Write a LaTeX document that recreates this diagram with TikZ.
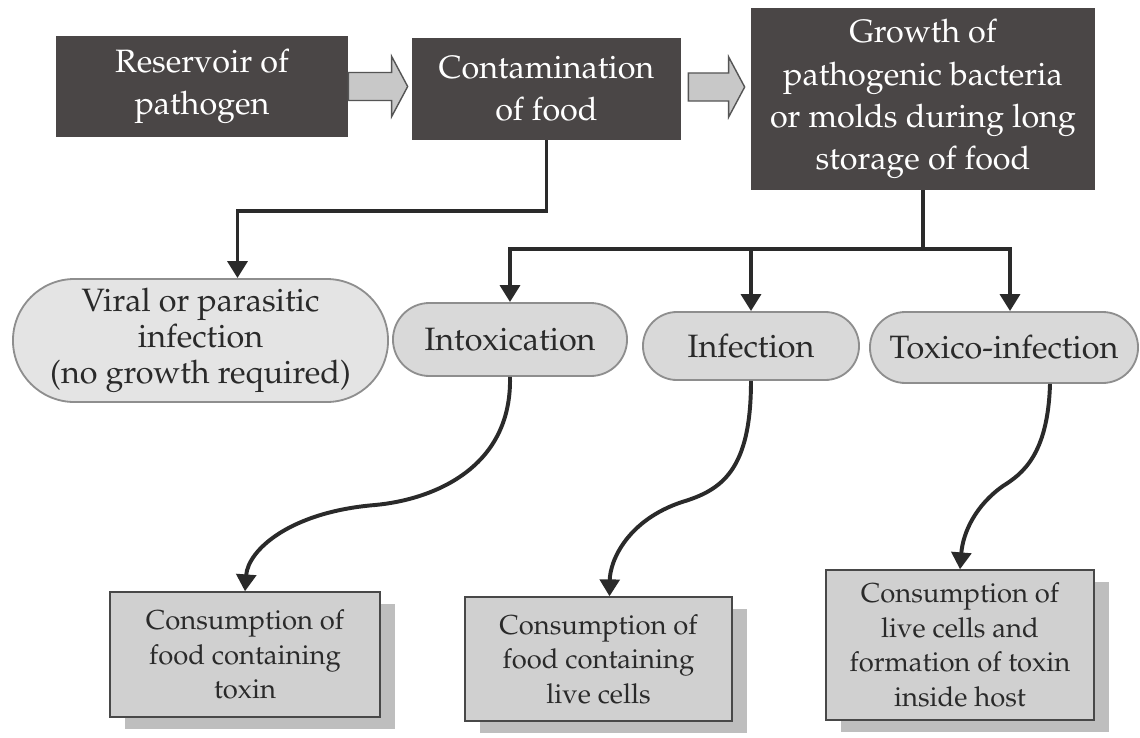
\documentclass[tikz,border=0pt]{standalone}
\usepackage[T1]{fontenc}
\usepackage{mathpazo}
\usepackage{tikz}
\usetikzlibrary{arrows.meta,calc,shapes.misc,shadows}
\definecolor{BoxDark}{HTML}{4A4646}
\definecolor{PillGray}{HTML}{D9D9D9}
\definecolor{PillLight}{HTML}{E4E4E4}
\definecolor{PillEdge}{HTML}{8E8E8E}
\definecolor{EndGray}{HTML}{D0D0D0}
\definecolor{EdgeDark}{HTML}{484848}
\definecolor{ShadowGray}{HTML}{BEBEBE}
\definecolor{ArrowGray}{HTML}{C8C8C8}
\definecolor{ArrowEdge}{HTML}{555555}
\definecolor{LineDark}{HTML}{2A2A2A}
\definecolor{TextDark}{HTML}{2A2A2A}

\newcommand{\fatarrow}[2]{%
  \filldraw[fill=ArrowGray,draw=ArrowEdge,line width=1pt,line join=miter] let \p1=#1, \p2=#2 in
    (\x1,\y1+0.35cm) -- (\x2-0.4cm,\y1+0.35cm) -- (\x2-0.4cm,\y1+0.75cm) -- (\x2,\y1)
    -- (\x2-0.4cm,\y1-0.75cm) -- (\x2-0.4cm,\y1-0.35cm) -- (\x1,\y1-0.35cm) -- cycle;}

\begin{document}
\begin{tikzpicture}[x=0.025cm, y=-0.025cm,
  darkbox/.style={fill=BoxDark, text=white, align=center, inner sep=0pt, font=\fontsize{23}{30}\selectfont},
  pill/.style={rounded rectangle, draw=PillEdge, line width=1.3pt, fill=PillGray, text=TextDark, align=center, inner sep=0pt, font=\fontsize{23}{25.5}\selectfont},
  endbox/.style={draw=EdgeDark, line width=1pt, fill=EndGray, text=TextDark, align=center, inner sep=0pt, font=\fontsize{19.5}{24.5}\selectfont,
    drop shadow={shadow xshift=0.375cm, shadow yshift=-0.3cm, fill=ShadowGray, opacity=1}},
  conn/.style={draw=LineDark, line width=2.8pt, line join=miter, -{Triangle[width=14pt,length=12pt]}}]
  \useasboundingbox[fill=white] (0,0) rectangle (1140,738);

  \node[darkbox, minimum width=7.3cm, minimum height=2.525cm] (res) at (202,86.5) {Reservoir of\\pathogen};
  \node[darkbox, minimum width=6.725cm, minimum height=2.55cm] (cont) at (546.5,89) {Contamination\\of food};
  \node[darkbox, minimum width=8.6cm, minimum height=4.55cm] (growth) at (923,99) {Growth of\\pathogenic bacteria\\or molds during long\\storage of food};

  \fatarrow{(res.east)}{($(cont.west)+(-4,0)$)}
  \fatarrow{($(cont.east)+(7,-2)$)}{($(growth.west)+(-6,0)$)}

  \node[pill, fill=PillLight, minimum width=9.375cm, minimum height=3.075cm] (viral) at (200.5,340.5) {Viral or parasitic\\infection\\(no growth required)};
  \node[pill, minimum width=5.85cm, minimum height=1.825cm] (intox) at (510,339.5) {Intoxication};
  \node[pill, minimum width=5.4cm, minimum height=1.7cm] (infec) at (751,346) {Infection};
  \node[pill, minimum width=6.7cm, minimum height=1.775cm] (toxi) at (1004,347.5) {Toxico-infection};

  \node[endbox, minimum width=6.75cm, minimum height=3.125cm] (box1) at (245,654.5) {Consumption of\\food containing\\toxin};
  \node[endbox, minimum width=6.675cm, minimum height=3.1cm] (box2) at (598.5,659) {Consumption of\\food containing\\live cells};
  \node[endbox, minimum width=6.7cm, minimum height=3.75cm] (box3) at (960,645) {Consumption of\\live cells and\\formation of toxin\\inside host};

  \draw[conn] (cont.south) -- ++(0,71) -| ($(viral.north)+(37,0)$);
  \draw[conn, -] (growth.south) -- ++(0,59) coordinate (bus);
  \draw[conn, {Triangle[width=14pt,length=12pt]}-{Triangle[width=14pt,length=12pt]}] (intox.north) |- (bus) -| ($(toxi.north)+(6,0)$);
  \draw[conn] (infec.north |- bus) -- (infec.north);

  \draw[conn] (intox.south) .. controls (512,470) and (430,500) .. (375,505) .. controls (290,512) and (248,550) .. (box1.north);
  \draw[conn] (infec.south) .. controls (751,470) and (722,490) .. (682,502) .. controls (628,520) and (610,560) .. ($(box2.north)+(11,0)$);
  \draw[conn] ($(toxi.south)+(46,0)$) .. controls (1048,455) and (1022,474) .. (1003,486) .. controls (976,505) and (963,532) .. (box3.north);
\end{tikzpicture}
\end{document}
